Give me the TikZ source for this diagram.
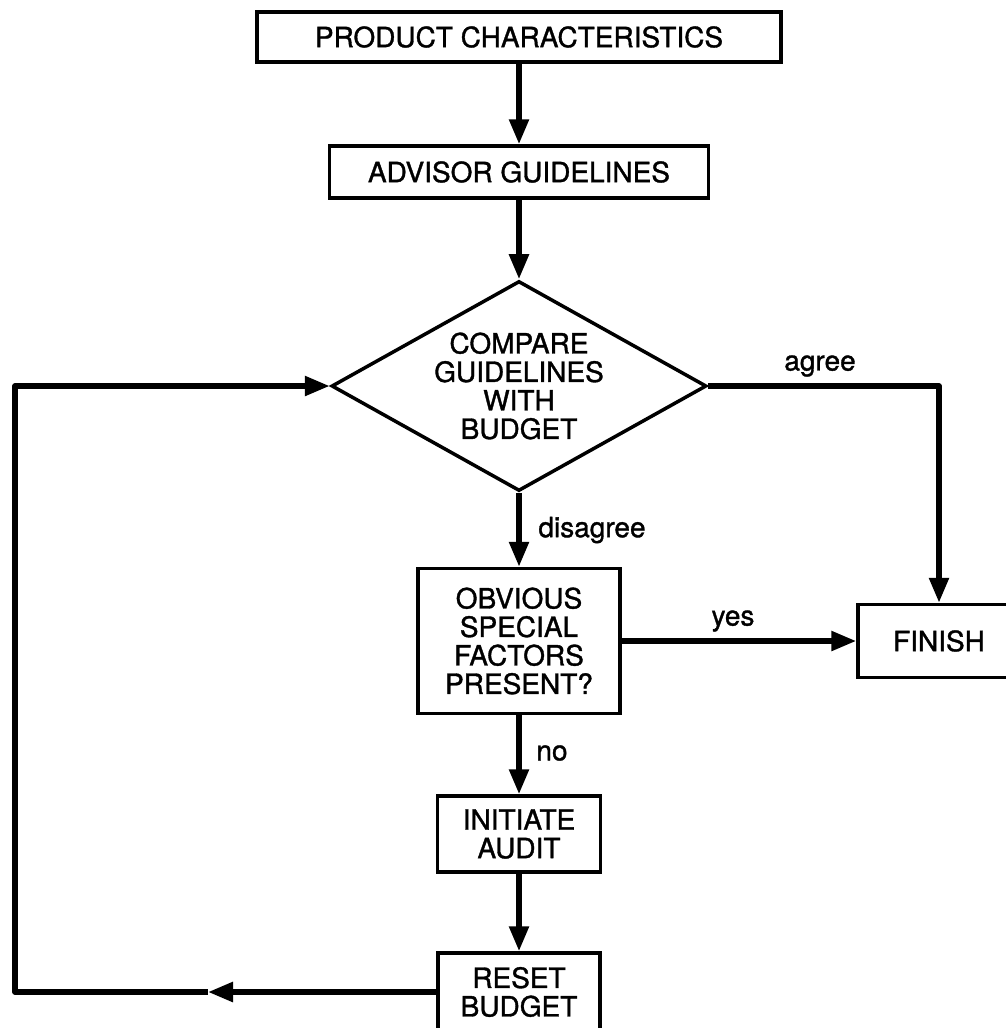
\documentclass[tikz,border=0pt]{standalone}
\usepackage{fontspec}
\setmainfont{TeX Gyre Heros}[FakeBold=1.2]
\usetikzlibrary{arrows.meta,shapes.geometric}
\begin{document}
\begin{tikzpicture}[x=1pt,y=-1pt,
  every node/.style={font=\fontsize{28}{28.5}\selectfont},
  box/.style={draw, line width=3.5pt, inner sep=0pt, align=center},
  decision/.style={draw, diamond, line width=3.5pt, inner sep=0pt, align=center, aspect=1.786},
  conn/.style={line width=5.5pt, line join=round, -{Triangle[length=25pt,width=19pt]}},
  lbl/.style={inner sep=0pt}]
\clip (0,0) rectangle (1006,1028);
\fill[white] (0,0) rectangle (1006,1028);

\node[box, minimum width=524pt, minimum height=50pt] (prod) at (519,37) {PRODUCT CHARACTERISTICS};
\node[box, minimum width=379pt, minimum height=52pt] (adv) at (519,172) {ADVISOR GUIDELINES};
\node[decision, minimum width=375pt, minimum height=210pt] (cmp) at (519,386) {COMPARE\\GUIDELINES\\WITH\\BUDGET};
\node[box, minimum width=202pt, minimum height=145pt] (obv) at (519,641) {OBVIOUS\\SPECIAL\\FACTORS\\PRESENT?};
\node[box, minimum width=162pt, minimum height=73pt] (fin) at (939,641) {FINISH};
\node[box, minimum width=163pt, minimum height=76pt] (init) at (519,834) {INITIATE\\AUDIT};
\node[box, minimum width=162pt, minimum height=78pt] (reset) at (519,992) {RESET\\BUDGET};

\coordinate (ar) at (939,386);
\coordinate (mid) at (208,992);
\coordinate (bl) at (15,992);
\coordinate (tl) at (15,386);

\draw[conn] (prod) -- (adv);
\draw[conn] (adv) -- (cmp);
\draw[conn] (cmp) -- (obv);
\draw[conn] (obv) -- (init);
\draw[conn] (init) -- (reset);
\draw[conn] (obv) -- (fin);
\draw[conn] (cmp.east) -- (ar) -- (fin.north);
\draw[conn] (reset.west) -- (mid);
\draw[conn] (mid) -- (bl) -- (tl) -- (cmp.west);

\node[lbl] (lagree) at (820,366) {agree};
\node[lbl] (ldis) at (592,530) {disagree};
\node[lbl] (lyes) at (733,621) {yes};
\node[lbl] (lno) at (552,753) {no};
\end{tikzpicture}
\end{document}
